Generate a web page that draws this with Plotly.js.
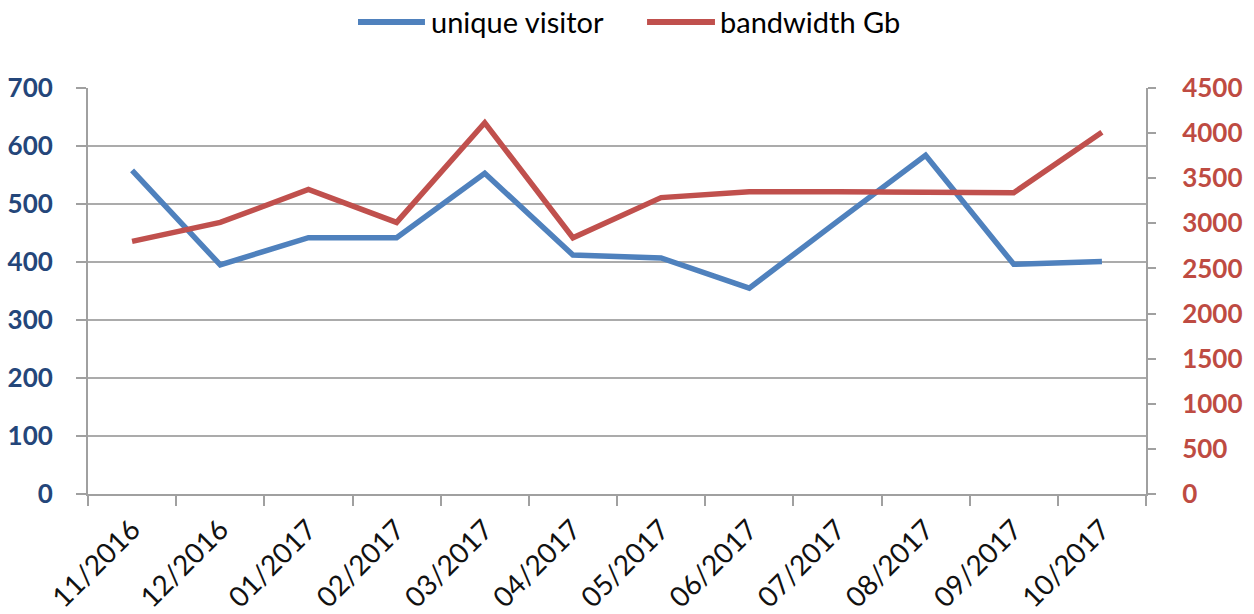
<!DOCTYPE html>
<html>
<head>
<meta charset="utf-8">
<script src="https://cdn.plot.ly/plotly-3.0.1.min.js"></script>
<style>html,body{margin:0;padding:0;background:#fff;}#chart{width:1254px;height:614px;}</style>
</head>
<body>
<div id="chart"></div>
<script>
const months = ["11/2016","12/2016","01/2017","02/2017","03/2017","04/2017","05/2017","06/2017","07/2017","08/2017","09/2017","10/2017"];
const seriesNames = ["unique visitor", "bandwidth Gb"];
const uniqueVisitor = [558, 395, 442, 442, 553, 412, 407, 355, 470, 584, 396, 401];
const bandwidthGb = [2800, 3010, 3375, 3010, 4115, 2840, 3285, 3350, 3350, 3345, 3340, 4010];

const blue = "#4F81BD", red = "#C0504D";
const fontFam = "Lato, 'Open Sans', sans-serif";

const traces = [
  {x: months, y: uniqueVisitor, name: seriesNames[0], type: "scatter", mode: "lines",
   line: {color: blue, width: 5.5}, yaxis: "y", showlegend: false},
  {x: months, y: bandwidthGb, name: seriesNames[1], type: "scatter", mode: "lines",
   line: {color: red, width: 5.5}, yaxis: "y2", showlegend: false}
];

const layout = {
  width: 1254, height: 614,
  margin: {l: 88, r: 108, t: 88, b: 120},
  paper_bgcolor: "#fff", plot_bgcolor: "#fff",
  font: {family: fontFam, size: 26, color: "#000"},
  xaxis: {
    type: "category", range: [-0.5, 11.5], tickson: "boundaries",
    ticks: "outside", ticklen: 10, tickwidth: 2, tickcolor: "#A0A0A0",
    showline: true, linecolor: "#A0A0A0", linewidth: 2, showgrid: false,
    tickangle: -45, ticklabelstandoff: 6,
    tickfont: {family: fontFam, size: 28, color: "#111"}
  },
  yaxis: {
    range: [0, 700], dtick: 100, showgrid: true, gridcolor: "#ABABAB", gridwidth: 2,
    showline: true, linecolor: "#A0A0A0", linewidth: 2, zeroline: false,
    ticks: "outside", ticklen: 10, tickwidth: 2, tickcolor: "#A0A0A0",
    ticklabelstandoff: 18,
    tickfont: {family: fontFam, size: 26, color: "#24467A", weight: 700}
  },
  yaxis2: {
    range: [0, 4500], dtick: 500, overlaying: "y", side: "right", showgrid: false,
    showline: true, linecolor: "#A0A0A0", linewidth: 2, zeroline: false,
    ticks: "outside", ticklen: 8, tickwidth: 2, tickcolor: "#A0A0A0",
    ticklabelstandoff: 21,
    tickfont: {family: fontFam, size: 26, color: "#BE4B42", weight: 700}
  },
  shapes: [
    {type: "line", xref: "paper", yref: "paper", x0: 0.2552, x1: 0.3185, y0: 1.1626, y1: 1.1626,
     line: {color: blue, width: 6}},
    {type: "line", xref: "paper", yref: "paper", x0: 0.5284, x1: 0.5926, y0: 1.1626, y1: 1.1626,
     line: {color: red, width: 6}}
  ],
  annotations: [
    {xref: "paper", yref: "paper", x: 0.3225, y: 1.1626, xanchor: "left", yanchor: "middle",
     text: seriesNames[0], showarrow: false, font: {family: fontFam, size: 29, color: "#000"}},
    {xref: "paper", yref: "paper", x: 0.5950, y: 1.1626, xanchor: "left", yanchor: "middle",
     text: seriesNames[1], showarrow: false, font: {family: fontFam, size: 29, color: "#000"}}
  ]
};

Plotly.newPlot("chart", traces, layout, {displayModeBar: false, staticPlot: true});
</script>
</body>
</html>
